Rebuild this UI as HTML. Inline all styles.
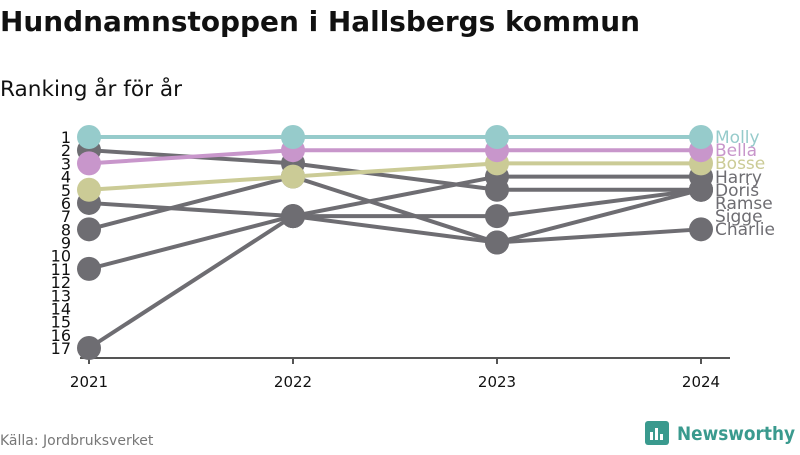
<!DOCTYPE html>
<html><head><meta charset="utf-8"><style>
body{margin:0;background:#fff;font-family:"Liberation Sans",sans-serif}
svg text{font-family:"DejaVu Sans","Liberation Sans",sans-serif}
</style></head><body>
<svg width="800" height="450" xmlns="http://www.w3.org/2000/svg">
<text x="0" y="31" font-size="28" font-weight="bold" fill="#111" textLength="640" lengthAdjust="spacingAndGlyphs">Hundnamnstoppen i Hallsbergs kommun</text>
<text x="0" y="96" font-size="21" fill="#111" textLength="182" lengthAdjust="spacingAndGlyphs">Ranking år för år</text>
<g id="yticks"></g>
<line x1="80" y1="358" x2="730" y2="358" stroke="#555" stroke-width="2"/>
<g id="xticks"></g>
<g id="series"></g>
<text x="0" y="445" font-size="14" fill="#777">Källa: Jordbruksverket</text>
<g>
<rect x="645" y="421" width="24" height="24" rx="3" fill="#3a9a8e"/>
<rect x="650" y="432" width="3" height="8" fill="#fff"/><rect x="655" y="428" width="3" height="12" fill="#fff"/><rect x="660" y="434" width="3" height="6" fill="#fff"/>
<text x="677" y="440" font-size="19" font-weight="bold" fill="#3a9a8e" textLength="118" lengthAdjust="spacingAndGlyphs">Newsworthy</text>
</g>
</svg>
<script>
const years=["2021","2022","2023","2024"];
const names=["Sigge","Charlie","Ramse","Harry","Doris","Bosse","Bella","Molly"];
const molly=[1,1,1,1];
const bella=[3,2,2,2];
const bosse=[5,4,3,3];
const harry=[11,7,4,4];
const doris=[2,3,5,5];
const ramse=[8,4,9,5];
const sigge=[17,7,7,5];
const charlie=[6,7,9,8];
const rankTicks=[1,2,3,4,5,6,7,8,9,10,11,12,13,14,15,16,17];
const labelY=[137,150,163,177,190,203,216,229];
const labelOrder=["Molly","Bella","Bosse","Harry","Doris","Ramse","Sigge","Charlie"];
const seriesData={Molly:molly,Bella:bella,Bosse:bosse,Harry:harry,Doris:doris,Ramse:ramse,Sigge:sigge,Charlie:charlie};
const colors={Molly:"#96cbcb",Bella:"#c896cb",Bosse:"#cbcb96"};
const NS="http://www.w3.org/2000/svg";
const x=i=>89+i*204;
const y=r=>137+(r-1)*(348-137)/16;
function mk(t,a,p){const e=document.createElementNS(NS,t);for(const k in a)e.setAttribute(k,a[k]);p.appendChild(e);return e;}
const yt=document.getElementById('yticks');
rankTicks.forEach(r=>{const t=mk('text',{x:71,y:y(r)+6,'text-anchor':'end','font-size':16,fill:'#111'},yt);t.textContent=r;

});
const xt=document.getElementById('xticks');
years.forEach((yr,i)=>{const l=mk('line',{x1:x(i),y1:358,x2:x(i),y2:364,stroke:'#555','stroke-width':2},xt);


const t=mk('text',{x:x(i),y:387,'text-anchor':'middle','font-size':15,fill:'#111'},xt);t.textContent=yr;

});
const sg=document.getElementById('series');
names.forEach(n=>{const d=seriesData[n];const c=colors[n]||'#6e6d72';
const g=mk('g',{},sg);


const p=mk('polyline',{points:d.map((v,i)=>x(i)+','+y(v)).join(' '),fill:'none',stroke:c,'stroke-width':4},g);


d.forEach((v,i)=>{const ci=mk('circle',{cx:x(i),cy:y(v),r:12,fill:c},g);

});
const li=labelOrder.indexOf(n);
const t=mk('text',{x:715,y:labelY[li]+6,'font-size':17,fill:c},g);t.textContent=n;


});
</script>
</body></html>
